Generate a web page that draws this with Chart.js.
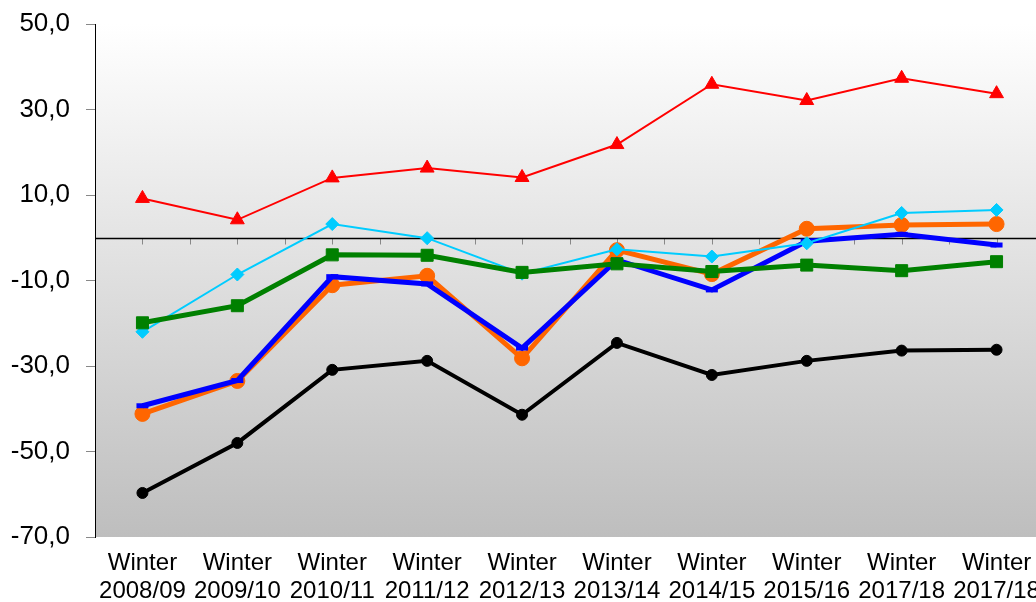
<!DOCTYPE html>
<html>
<head>
<meta charset="utf-8">
<script src="https://cdn.jsdelivr.net/npm/chart.js@4"></script>
<style>
  html, body { margin: 0; overflow: hidden; background: #fff; }
  #wrap { position: absolute; left: 0; top: 0; width: 1060px; height: 602px; }
  #chart { display: block; width: 1060px; height: 602px; }
</style>
</head>
<body>
<div id="wrap"><canvas id="chart" width="1060" height="602"></canvas></div>
<script>
// categories and series
const seasons = ['2008/09', '2009/10', '2010/11', '2011/12', '2012/13', '2013/14', '2014/15', '2015/16', '2017/18', '2017/18'];
const labels = seasons.map(s => ['Winter', s]);

const redValues    = [9.2, 4.2, 14.0, 16.3, 14.1, 21.8, 35.9, 32.1, 37.3, 33.7];
const cyanValues   = [-22.0, -8.6, 3.2, -0.1, -8.4, -2.7, -4.4, -1.3, 5.8, 6.5];
const orangeValues = [-41.2, -33.5, -11.1, -8.9, -28.2, -2.9, -8.5, 2.1, 3.0, 3.2];
const blueValues   = [-39.3, -33.4, -9.1, -10.8, -25.8, -5.2, -12.2, -0.8, 0.8, -1.7];
const greenValues  = [-19.9, -15.9, -4.0, -4.1, -8.1, -6.1, -7.9, -6.4, -7.7, -5.6];
const blackValues  = [-59.7, -48.0, -30.9, -28.8, -41.4, -24.6, -32.1, -28.8, -26.4, -26.2];

const yTicks = [-70, -50, -30, -10, 10, 30, 50];

// gray gradient behind the plot
const plotBackground = {
    id: 'plotBackground',
    beforeDraw(chart) {
        const { ctx, chartArea: a } = chart;
        const g = ctx.createLinearGradient(0, a.top, 0, a.bottom);
        g.addColorStop(0, '#ffffff');
        g.addColorStop(1, '#bebebe');
        ctx.save();
        ctx.fillStyle = g;
        ctx.fillRect(a.left, a.top, a.right - a.left, a.bottom - a.top);
        ctx.restore();
    }
};

// horizontal axis line at zero, with small tick marks
const zeroLine = {
    id: 'zeroLine',
    beforeDatasetsDraw(chart) {
        const { ctx, chartArea: a, scales } = chart;
        const y0 = Math.round(scales.y.getPixelForValue(0)) + 0.5;
        const step = scales.x.getPixelForValue(1) - scales.x.getPixelForValue(0);
        ctx.save();
        ctx.strokeStyle = '#888888';
        ctx.lineWidth = 1;
        for (let i = 0; i < labels.length; i++) {
            const c = scales.x.getPixelForValue(i);
            [c, c + step / 2].forEach(x => {
                ctx.beginPath();
                ctx.moveTo(Math.round(x) + 0.5, y0);
                ctx.lineTo(Math.round(x) + 0.5, y0 + 6);
                ctx.stroke();
            });
        }
        ctx.strokeStyle = '#000000';
        ctx.lineWidth = 1.3;
        ctx.beginPath();
        ctx.moveTo(a.left, y0);
        ctx.lineTo(a.right, y0);
        ctx.stroke();
        ctx.restore();
    }
};

function series(data, color, width, style, radius, order) {
    return {
        data: data,
        borderColor: color,
        backgroundColor: color,
        borderWidth: width,
        pointStyle: style,
        pointRadius: radius,
        pointBackgroundColor: color,
        pointBorderColor: color,
        pointBorderWidth: style === 'line' ? width : 1,
        tension: 0,
        order: order
    };
}

new Chart(document.getElementById('chart'), {
    type: 'line',
    data: {
        labels: labels,
        datasets: [
            series(redValues, '#ff0000', 2, 'triangle', 8, 0),
            series(greenValues, '#008000', 5, 'rect', 8.5, 1),
            series(cyanValues, '#00ccff', 2, 'rectRot', 6.5, 2),
            series(blueValues, '#0000ff', 5, 'line', 6, 3),
            series(orangeValues, '#ff6600', 5, 'circle', 7.5, 4),
            series(blackValues, '#000000', 4, 'circle', 5.5, 5)
        ]
    },
    options: {
        responsive: false,
        animation: false,
        layout: { padding: { top: 24, right: 16, bottom: 0, left: 0 } },
        plugins: {
            legend: { display: false },
            tooltip: { enabled: false }
        },
        scales: {
            x: {
                offset: true,
                grid: { display: false, drawTicks: false },
                border: { display: false },
                ticks: {
                    color: '#000',
                    padding: 13,
                    maxRotation: 0,
                    autoSkip: false,
                    font: { family: 'Liberation Sans', size: 24, lineHeight: 1.15 }
                },
                afterFit(scale) {
                    scale.height = 65;
                    scale.paddingLeft = 0;
                    scale.paddingRight = 0;
                }
            },
            y: {
                min: -70,
                max: 50,
                afterBuildTicks(scale) { scale.ticks = yTicks.map(v => ({ value: v })); },
                grid: { drawOnChartArea: false, drawTicks: true, tickLength: 9, color: '#888888' },
                border: { display: true, color: '#000000', width: 1 },
                ticks: {
                    color: '#000',
                    padding: 16,
                    font: { family: 'Liberation Sans', size: 26 },
                    callback: v => v.toFixed(1).replace('.', ',')
                },
                afterFit(scale) {
                    scale.width = 95;
                    scale.paddingTop = 0;
                    scale.paddingBottom = 0;
                }
            }
        }
    },
    plugins: [plotBackground, zeroLine]
});
</script>
</body>
</html>
